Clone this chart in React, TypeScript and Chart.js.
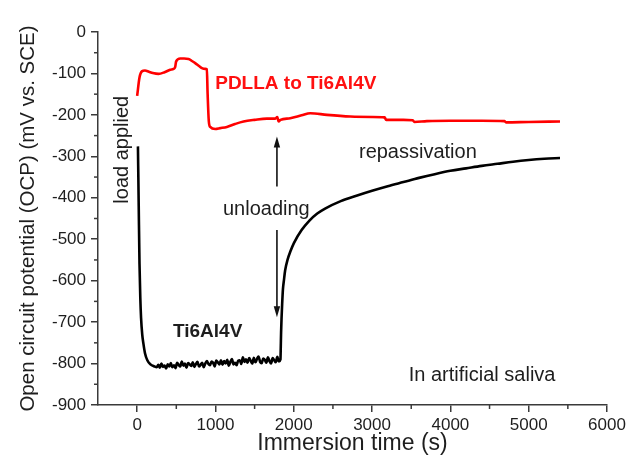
import React, { useEffect, useRef } from 'react';
import { Chart, registerables } from 'chart.js';

Chart.register(...registerables);

// Ti6Al4V (black) OCP trace, time in s, potential in mV vs. SCE
const blackTime = [
  10, 20, 30, 40, 50, 65, 80, 100, 130, 170, 220, 250,
  270, 290, 310, 330, 350, 370, 390, 410, 430, 450, 470, 490,
  510, 530, 550, 570, 590, 610, 630, 650, 670, 690, 710, 730, 750, 770, 790, 810, 830, 850, 870, 890,
  910, 930, 950, 970, 990, 1010, 1030, 1050, 1070, 1090, 1110, 1130, 1150, 1170, 1190, 1210, 1230, 1250, 1270, 1290,
  1310, 1330, 1350, 1370, 1390, 1410, 1430, 1450, 1470, 1490, 1510, 1530, 1550, 1570, 1590, 1610, 1630, 1650,
  1670, 1690, 1710, 1730, 1750, 1770, 1790, 1810, 1830,
  1834, 1838, 1844, 1852, 1862, 1875, 1890, 1920, 1960, 2000, 2100, 2200, 2300,
  2400, 2600, 2800, 3000, 3200, 3400, 3600, 3800, 4000, 4200, 4400, 4600, 4800, 5000, 5200, 5400,
];
const blackOCP = [
  -276, -420, -560, -640, -690, -730, -752, -775, -792, -802, -807, -809,
  -803, -810, -800, -808, -805, -812, -802, -807, -799, -809, -804, -811,
  -798, -803, -807, -795, -805, -800, -810, -799, -802, -806, -797, -808, -801, -796, -807, -803, -798, -809, -800, -794,
  -801, -804, -795, -798, -807, -793, -797, -802, -792, -803, -794, -800, -791, -805, -796, -789, -802, -798, -804, -793,
  -792, -801, -785, -796, -790, -798, -787, -793, -800, -786, -797, -789, -783, -796, -799, -788, -791, -798,
  -785, -794, -800, -787, -792, -797, -784, -795, -790,
  -760, -725, -690, -655, -620, -598, -575, -550, -528, -510, -478, -455, -438,
  -426, -408, -395, -383, -372, -362, -352, -343, -335, -329, -323, -318, -313, -309, -306, -304,
];

// PDLLA to Ti6Al4V (red) OCP trace
const redTime = [
  0, 30, 60, 100, 150, 200, 272, 350, 422, 465, 485, 498, 550, 600, 656, 700, 741,
  790, 827, 870, 890, 900, 915, 933, 997, 1060, 1146, 1250, 1359, 1500, 1657, 1764,
  1790, 1806, 1830, 1955, 2100, 2211, 2424, 2722, 3000, 3160, 3180, 3400, 3520, 3540,
  3700, 4000, 4400, 4690, 4710, 5000, 5400,
];
const redOCP = [
  -154, -110, -95, -93, -96, -99, -101, -97, -91, -89, -85, -71, -64, -64, -65, -70, -75,
  -82, -87, -89, -90, -150, -215, -229, -234, -232, -229, -222, -216, -212, -209, -209,
  -205, -216, -212, -208, -201, -196, -200, -204, -205, -206, -212, -212, -213, -217,
  -215, -214, -214, -215, -218, -217, -216,
];

const xMajorTicks = [0, 1000, 2000, 3000, 4000, 5000, 6000];
const xMinorTicks = [500, 1500, 2500, 3500, 4500, 5500];
const yMinorTicks = [-50, -150, -250, -350, -450, -550, -650, -750, -850];

const xTitle = 'Immersion time (s)';
const yTitle = 'Open circuit potential (OCP) (mV vs. SCE)';

const FONT = "'Liberation Sans', Arial, Helvetica, sans-serif";
const AXIS = '#3a3a3a';
const TEXT = '#1e1e1e';

const overlay = {
  id: 'overlay',
  afterDraw(chart: any) {
    const { ctx } = chart;
    const x = chart.scales.x;
    const y = chart.scales.y;
    ctx.save();
    // minor ticks
    ctx.strokeStyle = AXIS;
    ctx.lineWidth = 1.5;
    for (const t of xMinorTicks) {
      const px = x.getPixelForValue(t);
      ctx.beginPath();
      ctx.moveTo(px, y.bottom);
      ctx.lineTo(px, y.bottom + 4);
      ctx.stroke();
    }
    for (const v of yMinorTicks) {
      const py = y.getPixelForValue(v);
      ctx.beginPath();
      ctx.moveTo(x.left - 4, py);
      ctx.lineTo(x.left, py);
      ctx.stroke();
    }

    // arrows at unloading
    const ax = x.getPixelForValue(1785);
    const arrow = (v0: number, v1: number) => {
      const p0 = y.getPixelForValue(v0);
      const p1 = y.getPixelForValue(v1);
      const dir = p1 > p0 ? 1 : -1;
      ctx.strokeStyle = '#111';
      ctx.fillStyle = '#111';
      ctx.lineWidth = 1.6;
      ctx.beginPath();
      ctx.moveTo(ax, p0);
      ctx.lineTo(ax, p1 - dir * 8);
      ctx.stroke();
      ctx.beginPath();
      ctx.moveTo(ax, p1);
      ctx.lineTo(ax - 3.2, p1 - dir * 11);
      ctx.lineTo(ax + 3.2, p1 - dir * 11);
      ctx.closePath();
      ctx.fill();
    };
    arrow(-373, -252);
    arrow(-478, -688);

    // texts
    const text = (s: string, t: number, v: number, opts: any) => {
      ctx.save();
      ctx.font = `${opts.bold ? 'bold ' : ''}${opts.size}px ${FONT}`;
      ctx.fillStyle = opts.color || TEXT;
      ctx.textAlign = opts.align || 'center';
      ctx.textBaseline = 'middle';
      ctx.translate(x.getPixelForValue(t), y.getPixelForValue(v));
      if (opts.rotate) ctx.rotate(opts.rotate);
      ctx.fillText(s, 0, 0);
      ctx.restore();
    };
    text('PDLLA to Ti6Al4V', 997, -125, { bold: true, size: 19, color: '#ff1010', align: 'left' });
    text('load applied', -192, -284, { size: 20, rotate: -Math.PI / 2 });
    text('unloading', 1650, -428, { size: 20 });
    text('Ti6Al4V', 900, -723, { bold: true, size: 19 });
    text('repassivation', 3585, -290, { size: 20 });
    text('In artificial saliva', 4405, -828, { size: 20 });
    ctx.restore();
  },
};

export default function App() {
  const ref = useRef<HTMLCanvasElement>(null);
  useEffect(() => {
    document.body.style.margin = '0';
    const blackData = blackTime.map((t, i) => ({ x: t, y: blackOCP[i] }));
    const redData = redTime.map((t, i) => ({ x: t, y: redOCP[i] }));
    const chart = new Chart(ref.current as HTMLCanvasElement, {
      type: 'line',
      data: {
        datasets: [
          {
            label: 'Ti6Al4V',
            data: blackData,
            borderColor: '#000000',
            borderWidth: 2.6,
            pointRadius: 0,
            cubicInterpolationMode: 'monotone',
          },
          {
            label: 'PDLLA to Ti6Al4V',
            data: redData,
            borderColor: '#ff0000',
            borderWidth: 2.6,
            pointRadius: 0,
            cubicInterpolationMode: 'monotone',
          },
        ],
      },
      options: {
        responsive: false,
        animation: false,
        devicePixelRatio: 1,
        layout: { padding: { left: 0, top: 32, right: 30, bottom: 0 } },
        plugins: { legend: { display: false }, tooltip: { enabled: false } },
        scales: {
          x: {
            type: 'linear',
            min: -500,
            max: 6000,
            afterBuildTicks: (scale: any) => {
              scale.ticks = xMajorTicks.map((v) => ({ value: v }));
            },
            afterFit: (scale: any) => {
              scale.height = 58;
            },
            ticks: {
              stepSize: 1000,
              includeBounds: false,
              autoSkip: false,
              maxRotation: 0,
              padding: 3,
              color: TEXT,
              font: { family: FONT, size: 17 },
              callback: (v: any) => String(v),
            },
            grid: { drawOnChartArea: false, drawTicks: true, tickLength: 7, color: AXIS, lineWidth: 1.5 },
            border: { display: true, color: AXIS, width: 1.5 },
            title: {
              display: true,
              text: xTitle,
              color: TEXT,
              font: { family: FONT, size: 23 },
              padding: { top: 0, bottom: 6 },
            },
          },
          y: {
            type: 'linear',
            min: -900,
            max: 0,
            afterFit: (scale: any) => {
              scale.width = 98;
            },
            ticks: {
              stepSize: 100,
              autoSkip: false,
              padding: 5,
              color: TEXT,
              font: { family: FONT, size: 17 },
              callback: (v: any) => String(v),
            },
            grid: { drawOnChartArea: false, drawTicks: true, tickLength: 7, color: AXIS, lineWidth: 1.5 },
            border: { display: true, color: AXIS, width: 1.5 },
            title: {
              display: true,
              text: yTitle,
              color: TEXT,
              font: { family: FONT, size: 20.5 },
              padding: { top: 16, bottom: 0 },
            },
          },
        },
      },
      plugins: [overlay],
    } as any);
    return () => chart.destroy();
  }, []);
  return (
    <div style={{ position: 'fixed', left: 0, top: 0, width: 637, height: 463, background: '#ffffff' }}>
      <canvas ref={ref} width={637} height={463} style={{ display: 'block' }} />
    </div>
  );
}
